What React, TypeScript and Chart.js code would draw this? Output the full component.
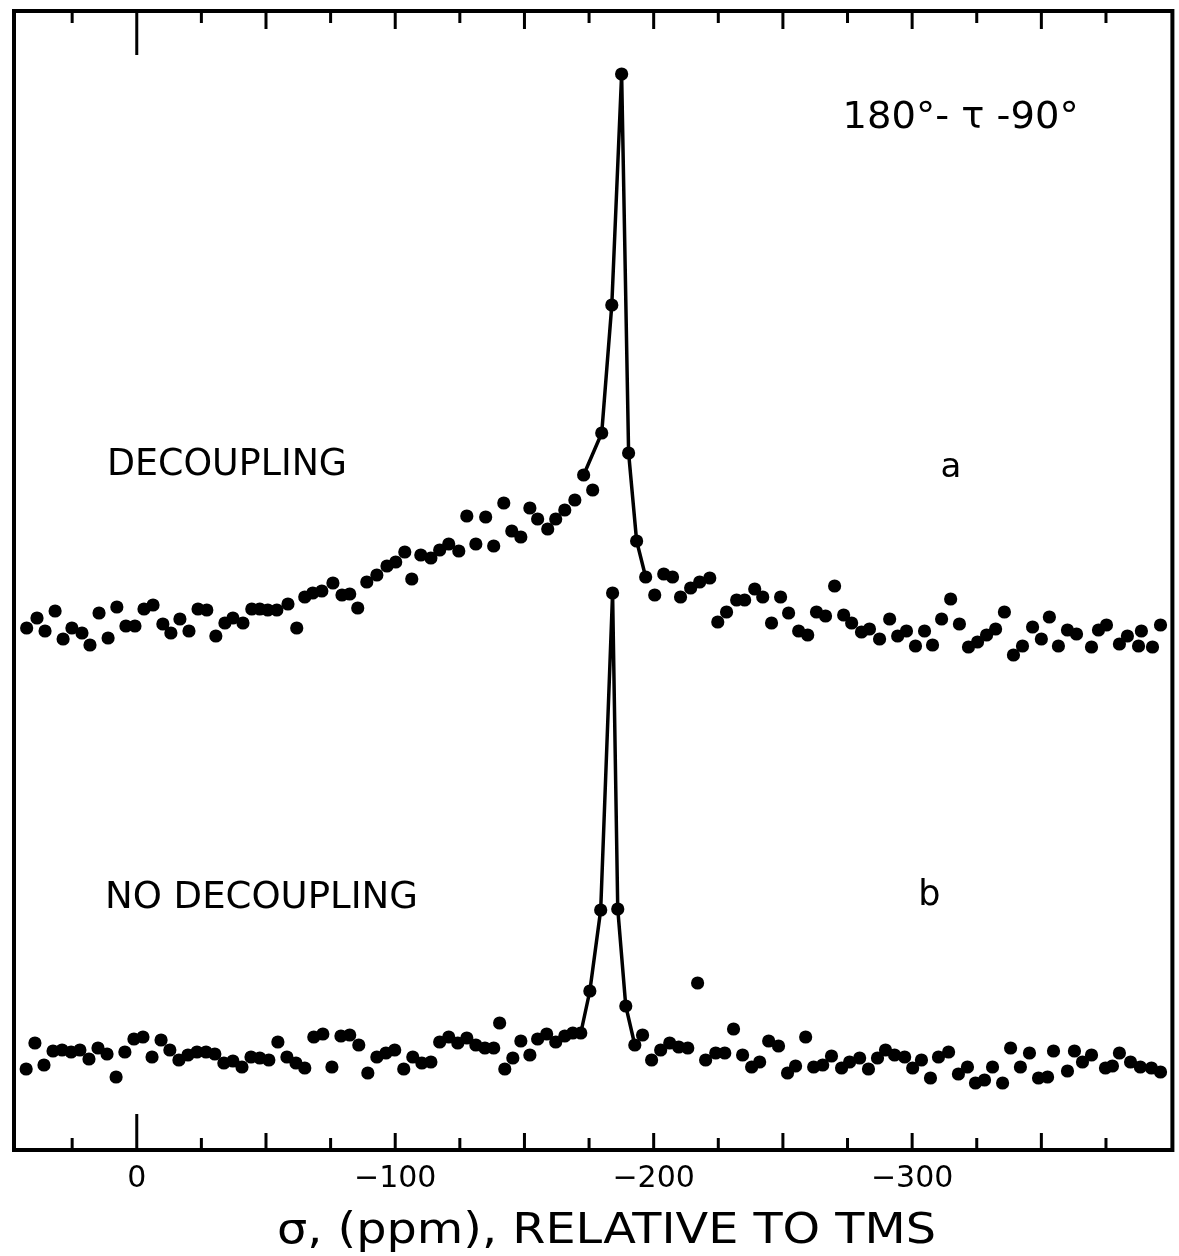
import React, { useEffect, useRef } from "react";
import { Chart, registerables } from "chart.js";

Chart.register(...registerables);

// ---- Data (chemical shift in ppm, intensity in arbitrary units) ----
const ppmA = [
  42.6, 38.6, 35.5, 31.6, 28.5, 25.1, 21.2, 18.1, 14.6, 11.1, 7.7, 4.2, 0.7, -2.8, -6.3, -10.1, -13.2, -16.7, -20.2,
  -23.7, -27.1, -30.6, -34.1, -37.2, -41.1, -44.5, -47.6, -50.7, -54.2, -58.5, -61.9, -65.0, -68.1, -71.6, -75.9,
  -79.4, -82.4, -85.5, -89.0, -92.9, -96.8,
  -100.2, -103.7, -106.4, -109.9, -113.8, -117.2, -120.7, -124.6, -127.7, -131.2, -135.0, -138.1, -142.0, -145.1,
  -148.6, -152.1, -155.1, -159.0, -162.1, -165.6, -169.5, -172.9, -176.4, -179.9, -183.8, -187.6, -190.3, -193.4,
  -196.9, -200.4, -203.9, -207.3, -210.4, -214.3, -217.8, -221.7, -224.8, -228.2, -232.1, -235.2, -239.1, -242.2,
  -245.6, -249.1, -252.2, -256.1, -259.6, -263.0, -266.5, -270.0, -273.5, -276.6, -280.4, -283.5, -287.4, -291.3,
  -294.4, -297.8, -301.3, -304.8, -307.9, -311.4, -314.9, -318.3, -321.8, -325.3, -328.8, -332.3, -335.7, -339.2,
  -342.7, -346.6, -350.0, -353.1, -356.6, -360.1, -363.6, -369.4, -372.1, -375.2, -380.2, -383.3, -387.6, -388.7,
  -393.0, -396.1,
];
const intA = [
  52.2, 53.2, 51.9, 53.9, 51.1, 52.2, 51.7, 50.5, 53.7, 51.2, 54.3, 52.4, 52.4, 54.1, 54.5, 52.6, 51.7, 53.1, 51.9,
  54.1, 54.0, 51.4, 52.7, 53.2, 52.7, 54.1, 54.1, 54.0, 54.0, 54.6, 52.2, 55.3, 55.7, 55.9, 56.7, 55.5, 55.6, 54.2,
  56.8, 57.5, 58.4,
  58.8, 59.8, 57.1, 59.5, 59.2, 60.0, 60.6, 59.9, 63.4, 60.6, 63.3, 60.4, 64.7, 61.9, 61.3, 64.2, 63.1, 62.1, 63.1,
  64.0, 65.0, 67.5, 66.0, 71.7, 84.5, 107.6, 69.7, 60.9, 57.3, 55.5, 57.6, 57.3, 55.3, 56.2, 56.8, 57.2, 52.8, 53.8,
  55.0, 55.0, 56.1, 55.3, 52.7, 55.3, 53.7, 51.9, 51.5, 53.8, 53.4, 56.4, 53.5, 52.7, 51.8, 52.1, 51.1, 53.1, 51.4,
  51.9, 50.4, 51.9, 50.5, 53.1, 55.1, 52.6, 50.3, 50.8, 51.5, 52.1, 53.8, 49.5, 50.4, 52.3, 51.1, 53.3, 50.4, 52.0,
  51.6, 50.3, 52.0, 52.5, 50.6, 51.4, 50.4, 51.9, 50.3, 52.5,
];
const peakLinePpmA = [-172.9, -179.9, -183.8, -187.6, -190.3, -193.4, -196.9];
const peakLineIntA = [67.5, 71.7, 84.5, 107.6, 69.7, 60.9, 57.3];

const ppmB = [
  42.8, 39.4, 35.9, 32.4, 28.9, 25.4, 22.0, 18.5, 15.0, 11.5,
  8.0, 4.6, 1.1, -2.4, -5.9, -9.4, -12.8, -16.3, -19.8, -23.3,
  -26.8, -30.2, -33.7, -37.2, -40.7, -44.2, -47.6, -51.1, -54.6, -58.1,
  -61.6, -65.0, -68.5, -72.0, -75.5, -79.0, -82.4, -85.9, -89.4, -92.9,
  -96.4, -99.8, -103.3, -106.8, -110.3, -113.8, -117.2, -120.7, -124.2, -127.7,
  -131.2, -134.7, -138.1, -140.4, -142.4, -145.5, -148.6, -152.1, -155.1, -158.6,
  -162.1, -165.6, -168.7, -171.8, -175.3, -179.5, -184.1, -186.1, -189.2, -192.7,
  -195.7, -199.2, -202.7, -206.2, -209.7, -213.2, -217.0, -220.1, -224.0, -227.5,
  -230.9, -234.4, -237.9, -241.0, -244.5, -248.3, -251.8, -254.9, -258.8, -261.9,
  -265.4, -268.8, -272.7, -275.8, -279.7, -283.1, -286.6, -289.7, -293.2, -297.1,
  -300.2, -303.6, -307.1, -310.2, -314.1, -317.9, -321.4, -324.5, -328.0, -331.1,
  -335.0, -338.1, -341.9, -345.4, -348.9, -352.4, -354.7, -360.1, -362.8, -365.9,
  -369.4, -374.8, -377.5, -380.2, -384.5, -388.3, -392.6, -396.1,
];
const intB = [
  8.1, 10.7, 8.5, 9.9, 10.0, 9.8, 10.0, 9.1, 10.2, 9.6,
  7.3, 9.8, 11.1, 11.3, 9.3, 11.0, 10.0, 9.0, 9.5, 9.8,
  9.8, 9.6, 8.7, 8.9, 8.3, 9.3, 9.2, 9.0, 10.8, 9.3,
  8.7, 8.2, 11.3, 11.6, 8.3, 11.4, 11.5, 10.5, 7.7, 9.3,
  9.7, 10.0, 8.1, 9.3, 8.7, 8.8, 10.8, 11.3, 10.7, 11.2,
  10.5, 10.2, 10.2, 12.7, 8.1, 9.2, 10.9, 9.5, 11.1, 11.6,
  10.8, 11.4, 11.7, 11.7, 15.9, 24.0, 55.7, 24.1, 14.4, 10.5,
  11.5, 9.0, 10.0, 10.7, 10.3, 10.2, 16.7, 9.0, 9.7, 9.7,
  12.1, 9.5, 8.3, 8.8, 10.9, 10.4, 7.7, 8.4, 11.3, 8.3,
  8.5, 9.4, 8.2, 8.8, 9.2, 8.1, 9.2, 10.0, 9.5, 9.3,
  8.2, 9.0, 7.2, 9.3, 9.8, 7.6, 8.3, 6.7, 7.0, 8.3,
  6.7, 10.2, 8.3, 9.7, 7.2, 7.3, 9.9, 7.9, 9.9, 8.8,
  9.5, 8.2, 8.4, 9.7, 8.8, 8.3, 8.2, 7.8,
];
const peakLinePpmB = [-171.8, -175.3, -179.5, -184.1, -186.1, -189.2, -192.7];
const peakLineIntB = [11.7, 15.9, 24.0, 55.7, 24.1, 14.4, 10.5];

const xTickValues = [25, 0, -25, -50, -75, -100, -125, -150, -175, -200, -225, -250, -275, -300, -325, -350, -375];
const xTickLabels = [0, -100, -200, -300];
const axisTitle = "σ, (ppm), RELATIVE TO TMS";
const pulseLabel = "180°- τ -90°";
const labelA = "DECOUPLING";
const labelB = "NO DECOUPLING";
const letterA = "a";
const letterB = "b";

const X_MIN = -400.7;
const X_MAX = 47.5;
const Y_MIN = 0;
const Y_MAX = 113.9;

const FONT = '"DejaVu Sans", "Liberation Sans", sans-serif';

function toPoints(xs: number[], ys: number[]) {
  return xs.map((x, i) => ({ x, y: ys[i] }));
}

function drawFit(ctx: CanvasRenderingContext2D, text: string, xLeft: number, baseline: number, size: number, width?: number) {
  ctx.font = `${size}px ${FONT}`;
  ctx.textAlign = "left";
  ctx.textBaseline = "alphabetic";
  const w = ctx.measureText(text).width;
  const s = width ? width / w : 1;
  ctx.save();
  ctx.translate(xLeft, baseline);
  ctx.scale(s, 1);
  ctx.fillText(text, 0, 0);
  ctx.restore();
}

const framePlugin = {
  id: "framePlugin",
  afterDraw(chart: any) {
    const { ctx, chartArea, scales } = chart;
    const { left, right, top, bottom } = chartArea;
    const xs = scales.x;
    const ys = scales.y;
    ctx.save();
    ctx.strokeStyle = "#000";
    ctx.fillStyle = "#000";
    ctx.lineCap = "butt";
    ctx.lineWidth = 4;
    ctx.strokeRect(left, top, right - left, bottom - top);

    ctx.lineWidth = 3;
    for (const v of xTickValues) {
      const px = xs.getPixelForValue(v);
      const kind = v === 0 ? 2 : v % 50 === 0 ? 1 : 0;
      const lb = kind === 2 ? 36 : kind === 1 ? 17 : 12;
      const lt = kind === 2 ? 44 : kind === 1 ? 18 : 12;
      ctx.beginPath();
      ctx.moveTo(px, bottom);
      ctx.lineTo(px, bottom - lb);
      ctx.moveTo(px, top);
      ctx.lineTo(px, top + lt);
      ctx.stroke();
    }

    ctx.font = `30px ${FONT}`;
    ctx.textAlign = "center";
    ctx.textBaseline = "alphabetic";
    for (const v of xTickLabels) {
      const px = xs.getPixelForValue(v);
      const label = v === 0 ? "0" : "−" + String(Math.abs(v));
      ctx.fillText(label, px, bottom + 37);
    }

    // axis title
    drawFit(ctx, axisTitle, 277, bottom + 93, 42, 659);

    // annotations placed through the data scales
    drawFit(ctx, pulseLabel, xs.getPixelForValue(-273.1), ys.getPixelForValue(102.2), 38, 236);
    drawFit(ctx, labelA, xs.getPixelForValue(11.5), ys.getPixelForValue(67.5), 37, 240);
    drawFit(ctx, labelB, xs.getPixelForValue(12.3), ys.getPixelForValue(24.2), 37, 313);
    drawFit(ctx, letterA, xs.getPixelForValue(-311.0), ys.getPixelForValue(67.3), 34);
    drawFit(ctx, letterB, xs.getPixelForValue(-302.4), ys.getPixelForValue(24.5), 35);
    ctx.restore();
  },
};

export default function App() {
  const canvasRef = useRef<HTMLCanvasElement | null>(null);

  useEffect(() => {
    const canvas = canvasRef.current;
    if (!canvas) return;
    const dot = {
      showLine: false,
      pointRadius: 6.6,
      pointHoverRadius: 6.6,
      pointBackgroundColor: "#000",
      pointBorderWidth: 0,
      borderColor: "#000",
      backgroundColor: "#000",
    };
    const line = {
      showLine: true,
      pointRadius: 0,
      borderColor: "#000",
      borderWidth: 3.5,
      tension: 0,
      fill: false,
    };
    const chart = new Chart(canvas, {
      type: "scatter",
      data: {
        datasets: [
          { label: "a line", data: toPoints(peakLinePpmA, peakLineIntA), ...line },
          { label: "a", data: toPoints(ppmA, intA), ...dot },
          { label: "b line", data: toPoints(peakLinePpmB, peakLineIntB), ...line },
          { label: "b", data: toPoints(ppmB, intB), ...dot },
        ],
      },
      options: {
        animation: false,
        responsive: false,
        devicePixelRatio: 1,
        layout: { padding: { left: 14, right: 6, top: 11, bottom: 106 } },
        plugins: { legend: { display: false }, tooltip: { enabled: false } },
        scales: {
          x: { type: "linear", min: X_MIN, max: X_MAX, reverse: true, display: false },
          y: { type: "linear", min: Y_MIN, max: Y_MAX, display: false },
        },
      },
      plugins: [framePlugin],
    } as any);
    return () => chart.destroy();
  }, []);

  return (
    <div style={{ position: "absolute", left: 0, top: 0, width: 1179, height: 1256, background: "#fff" }}>
      <canvas ref={canvasRef} width={1179} height={1256} style={{ width: 1179, height: 1256, display: "block" }} />
    </div>
  );
}
